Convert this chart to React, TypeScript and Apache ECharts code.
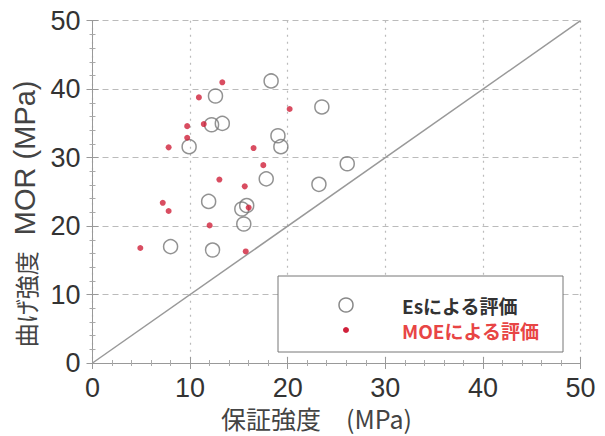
import React, { useEffect, useRef } from "react";
import * as echarts from "echarts";

const axisTicks = [0, 10, 20, 30, 40, 50];
const esX = [18.3, 12.6, 12.2, 13.3, 9.9, 23.5, 19.0, 19.3, 26.1, 17.8, 23.2, 11.9, 15.3, 15.8, 15.5, 8.0, 12.3];
const esY = [41.2, 39.0, 34.8, 35.0, 31.6, 37.4, 33.2, 31.6, 29.1, 26.9, 26.1, 23.6, 22.5, 23.0, 20.3, 17.0, 16.5];
const moeX = [13.3, 10.9, 20.2, 9.7, 11.4, 9.7, 7.8, 16.5, 17.5, 13.0, 15.6, 7.2, 7.8, 16.0, 12.0, 4.9, 15.7];
const moeY = [41.0, 38.8, 37.1, 34.6, 34.9, 32.9, 31.5, 31.4, 28.9, 26.8, 25.8, 23.4, 22.2, 22.7, 20.1, 16.8, 16.3];
const diagonal = [[0, 0], [50, 50]];
const legendNames = ["Esによる評価", "MOEによる評価"];

const FONT = "'Liberation Sans', Arial, 'Noto Sans CJK JP', sans-serif";
const CJK = "'Noto Sans CJK JP', 'Liberation Sans', sans-serif";

function makeAxis(show: boolean, position: string, name: string, dash: number[], extra: any) {
  return {
    type: "value",
    position,
    min: axisTicks[0],
    max: axisTicks[axisTicks.length - 1],
    interval: 10,
    name: show ? name : "",
    axisLine: { show: true, lineStyle: { color: "#999", width: 1 } },
    axisTick: { show: true, inside: true, length: 6, lineStyle: { color: "#999" } },
    minorTick: { show: true, splitNumber: 5, length: 3, lineStyle: { color: "#aaa" } },
    splitLine: show
      ? { show: true, lineStyle: { color: "#bbb", type: dash, width: 1.2 } }
      : { show: false },
    axisLabel: show
      ? { show: true, fontSize: 27, color: "#333", fontFamily: FONT, ...extra.label }
      : { show: false },
    ...extra.rest,
  };
}

export default function App() {
  const ref = useRef<HTMLDivElement>(null);
  useEffect(() => {
    if (!ref.current) return;
    const chart = echarts.init(ref.current, null, { renderer: "svg" });
    const es = esX.map((x, i) => [x, esY[i]]);
    const moe = moeX.map((x, i) => [x, moeY[i]]);
    chart.setOption({
      animation: false,
      backgroundColor: "#fff",
      grid: { left: 92.5, right: 24.5, top: 20.7, bottom: 73, containLabel: false },
      xAxis: [
        makeAxis(true, "bottom", "保証強度\u3000(MPa)", [2, 5], {
          label: { margin: 11 },
          rest: {
            nameLocation: "middle",
            nameGap: 41,
            nameTextStyle: { fontSize: 25, color: "#444", fontFamily: CJK, padding: [0, 40, 0, 0] },
          },
        }),
        makeAxis(false, "top", "", [2, 5], { label: {}, rest: {} }),
      ],
      yAxis: [
        makeAxis(true, "left", "{c|曲げ強度}{l|  MOR (MPa)}", [6, 4], {
          label: { margin: 12 },
          rest: {
            nameLocation: "middle",
            nameGap: 50,
            nameTextStyle: {
              color: "#444",
              padding: [0, 44, 0, 0],
              rich: {
                c: { fontSize: 24, color: "#444", fontFamily: CJK },
                l: { fontSize: 29, color: "#444", fontFamily: FONT },
              },
            },
          },
        }),
        makeAxis(false, "right", "", [6, 4], { label: {}, rest: {} }),
      ],
      series: [
        {
          type: "line",
          data: diagonal,
          symbol: "none",
          lineStyle: { color: "#999", width: 1.5 },
          silent: true,
          z: 1,
        },
        {
          name: legendNames[0],
          type: "scatter",
          data: es,
          symbol: "circle",
          symbolSize: 14,
          itemStyle: { color: "rgba(255,255,255,0)", borderColor: "#777", borderWidth: 1.5 },
          z: 2,
        },
        {
          name: legendNames[1],
          type: "scatter",
          data: moe,
          symbol: "circle",
          symbolSize: 6,
          itemStyle: { color: "#d0203a" },
          z: 3,
        },
      ],
      graphic: [
        {
          type: "rect",
          shape: { x: 278, y: 276, width: 285, height: 76 },
          style: { fill: "#fff", stroke: "#777", lineWidth: 1 },
          z: 10,
        },
        {
          type: "circle",
          shape: { cx: 346, cy: 305, r: 7 },
          style: { fill: "#fff", stroke: "#888", lineWidth: 1.5 },
          z: 11,
        },
        {
          type: "circle",
          shape: { cx: 346, cy: 330, r: 3 },
          style: { fill: "#d0203a" },
          z: 11,
        },
        {
          type: "text",
          x: 402,
          y: 305,
          style: {
            text: legendNames[0],
            fill: "#333",
            font: `bold 19px ${CJK}`,
            verticalAlign: "middle",
          },
          z: 11,
        },
        {
          type: "text",
          x: 402,
          y: 330,
          style: {
            text: legendNames[1],
            fill: "#e84545",
            font: `bold 19px ${CJK}`,
            verticalAlign: "middle",
          },
          z: 11,
        },
      ],
    });
    return () => chart.dispose();
  }, []);
  return (
    <div
      ref={ref}
      style={{ position: "fixed", left: 0, top: 0, width: 605, height: 436, background: "#fff" }}
    />
  );
}
